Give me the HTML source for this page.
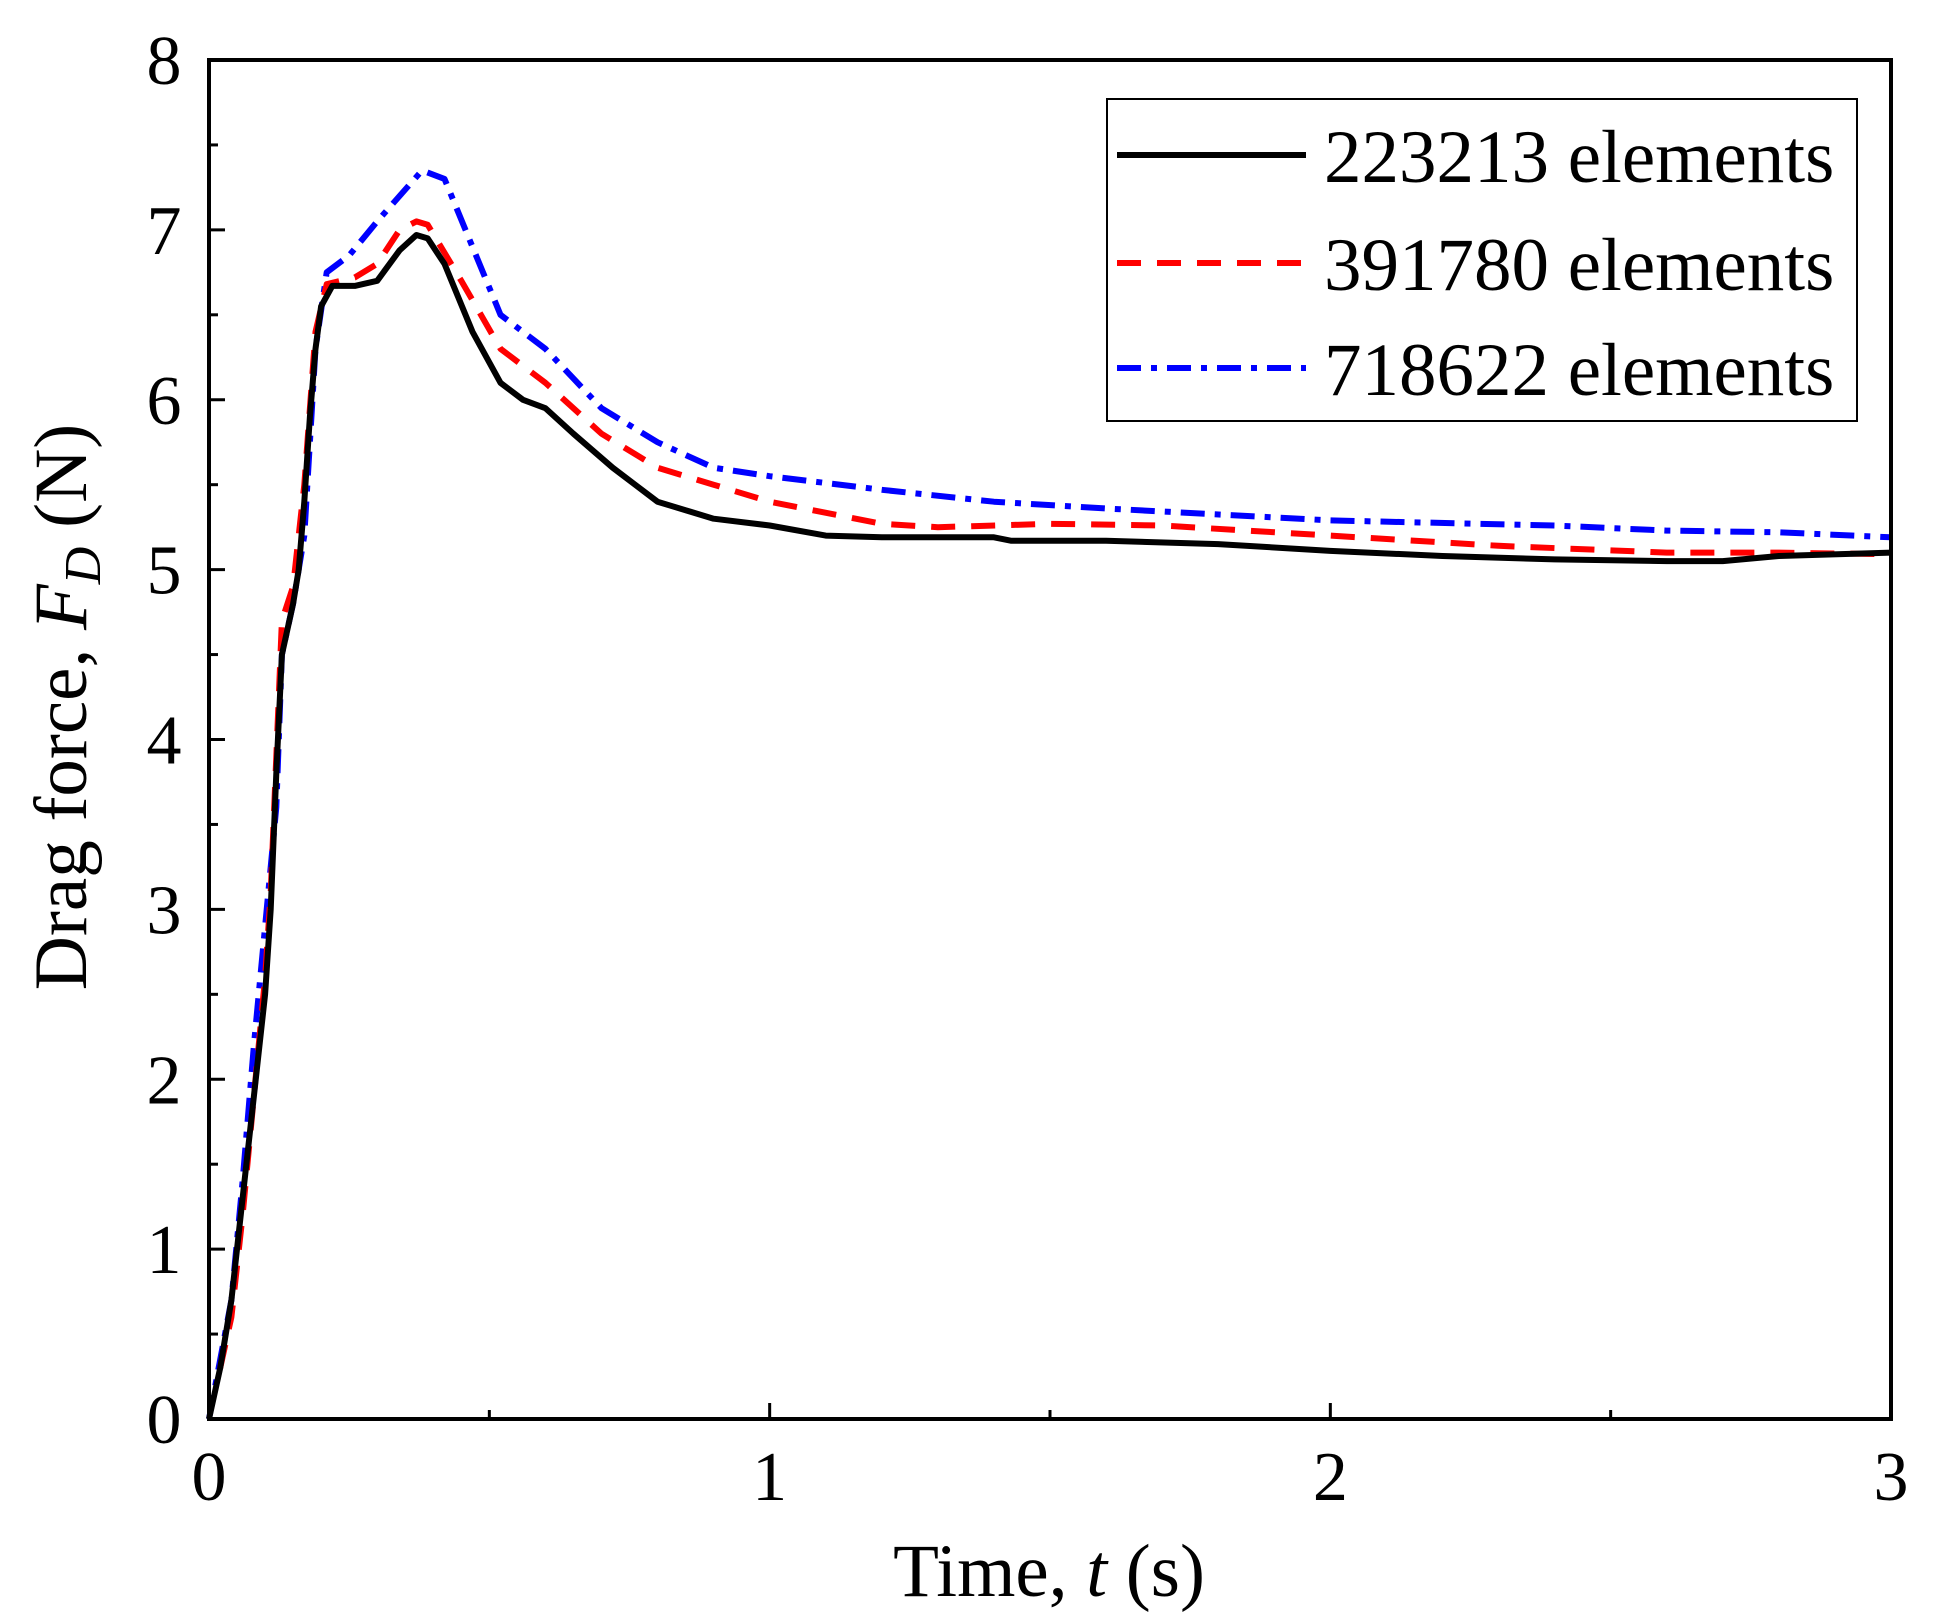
<!DOCTYPE html>
<html><head><meta charset="utf-8"><style>
html,body{margin:0;padding:0;background:#fff}
svg{display:block}
text{font-family:"Liberation Serif",serif;fill:#000}
</style></head><body>
<svg id="s" width="1936" height="1624" xmlns="http://www.w3.org/2000/svg">
<g id="ticks" stroke="#000" stroke-width="3"></g>
<g id="curves" fill="none" stroke-linejoin="round"></g>
<rect x="209" y="60" width="1682" height="1359" fill="none" stroke="#000" stroke-width="4"/>
<g id="labels" font-size="70"></g>
<text x="1049" y="1596" font-size="75" text-anchor="middle">Time, <tspan font-style="italic">t</tspan> (s)</text>
<text transform="translate(86,707) rotate(-90)" font-size="75" text-anchor="middle">Drag force, <tspan font-style="italic">F</tspan><tspan font-style="italic" font-size="52" dy="14">D</tspan><tspan dy="-14"> (N)</tspan></text>
<rect x="1107" y="99" width="750" height="322" fill="#fff" stroke="#000" stroke-width="2"/>
<line x1="1117" y1="155" x2="1306" y2="155" stroke="#000" stroke-width="6"/>
<line x1="1117" y1="263" x2="1306" y2="263" stroke="#f00" stroke-width="6" stroke-dasharray="24 16"/>
<line x1="1117" y1="368" x2="1306" y2="368" stroke="#00f" stroke-width="6" stroke-dasharray="24 10 6 10"/>
<g font-size="75"><text x="1324" y="182">223213 elements</text><text x="1324" y="290">391780 elements</text><text x="1324" y="395">718622 elements</text></g>
</svg>
<script>
var X=function(t){return 209+t*1682/3},Y=function(f){return 1419-f*169.875};
var NS="http://www.w3.org/2000/svg";
function el(p,n,a){var e=document.createElementNS(NS,n);for(var k in a)e.setAttribute(k,a[k]);p.appendChild(e);return e;}
var tk=document.getElementById('ticks'),lb=document.getElementById('labels');
for(var i=0;i<=16;i++){var y=Y(i/2),L=i%2?9:16;if(i>0&&i<16)el(tk,'line',{x1:209,y1:y,x2:209+L,y2:y});}
for(var i=0;i<=8;i++){var t=el(lb,'text',{x:164,y:Y(i)+24,'text-anchor':'middle'});t.textContent=i;}
for(var i=1;i<6;i++){var x=X(i/2),L=i%2?9:16;el(tk,'line',{x1:x,y1:1419,x2:x,y2:1419-L});}
for(var i=0;i<=3;i++){var t=el(lb,'text',{x:X(i),y:1500,'text-anchor':'middle'});t.textContent=i;}
var rise=[[0,0],[0.02,0.3],[0.04,0.7],[0.06,1.3],[0.08,1.9],[0.1,2.5],[0.11,3],[0.12,3.8],[0.13,4.5],[0.14,4.65],[0.15,4.8],[0.16,5.0],[0.17,5.4],[0.18,5.9],[0.19,6.3],[0.2,6.55]];
var black=rise.concat([[0.22,6.67],[0.26,6.67],[0.3,6.7],[0.34,6.88],[0.37,6.97],[0.39,6.95],[0.42,6.8],[0.47,6.4],[0.52,6.1],[0.56,6.0],[0.6,5.95],[0.65,5.8],[0.72,5.6],[0.8,5.4],[0.85,5.35],[0.9,5.3],[1.0,5.26],[1.1,5.2],[1.2,5.19],[1.4,5.19],[1.43,5.17],[1.6,5.17],[1.8,5.15],[2.0,5.11],[2.2,5.08],[2.4,5.06],[2.6,5.05],[2.7,5.05],[2.8,5.08],[3.0,5.1]]);
var red=[[0.02,0.3],[0.04,0.6],[0.06,1.2],[0.08,1.9],[0.1,2.6],[0.11,3.1],[0.12,3.9],[0.13,4.7],[0.15,4.9],[0.17,5.5],[0.19,6.4],[0.21,6.68],[0.26,6.72],[0.3,6.8],[0.34,7.0],[0.37,7.05],[0.39,7.03],[0.45,6.7],[0.52,6.3],[0.6,6.1],[0.7,5.8],[0.8,5.6],[0.9,5.5],[1.0,5.4],[1.2,5.27],[1.3,5.25],[1.5,5.27],[1.7,5.26],[2.0,5.2],[2.3,5.14],[2.6,5.1],[2.8,5.1],[3.0,5.09]];
var blue=[[0,0],[0.02,0.35],[0.04,0.7],[0.06,1.4],[0.08,2.2],[0.1,2.9],[0.12,3.6],[0.13,4.5],[0.15,4.8],[0.17,5.2],[0.19,6.3],[0.21,6.75],[0.25,6.85],[0.3,7.05],[0.38,7.35],[0.42,7.3],[0.47,6.9],[0.52,6.5],[0.6,6.3],[0.7,5.95],[0.8,5.75],[0.9,5.6],[1.0,5.55],[1.2,5.47],[1.4,5.4],[1.6,5.36],[2.0,5.29],[2.4,5.26],[2.6,5.23],[2.8,5.22],[3.0,5.19]];
function path(d){return d.map(function(p,i){return (i?'L':'M')+X(p[0]).toFixed(1)+' '+Y(p[1]).toFixed(1)}).join(' ');}
var cg=document.getElementById('curves');
el(cg,'path',{d:path(blue),stroke:'#00f','stroke-width':6,'stroke-dasharray':'24 10 6 10'});
el(cg,'path',{d:path(red),stroke:'#f00','stroke-width':6,'stroke-dasharray':'24 16'});
el(cg,'path',{d:path(black),stroke:'#000','stroke-width':6});
</script>
</body></html>
